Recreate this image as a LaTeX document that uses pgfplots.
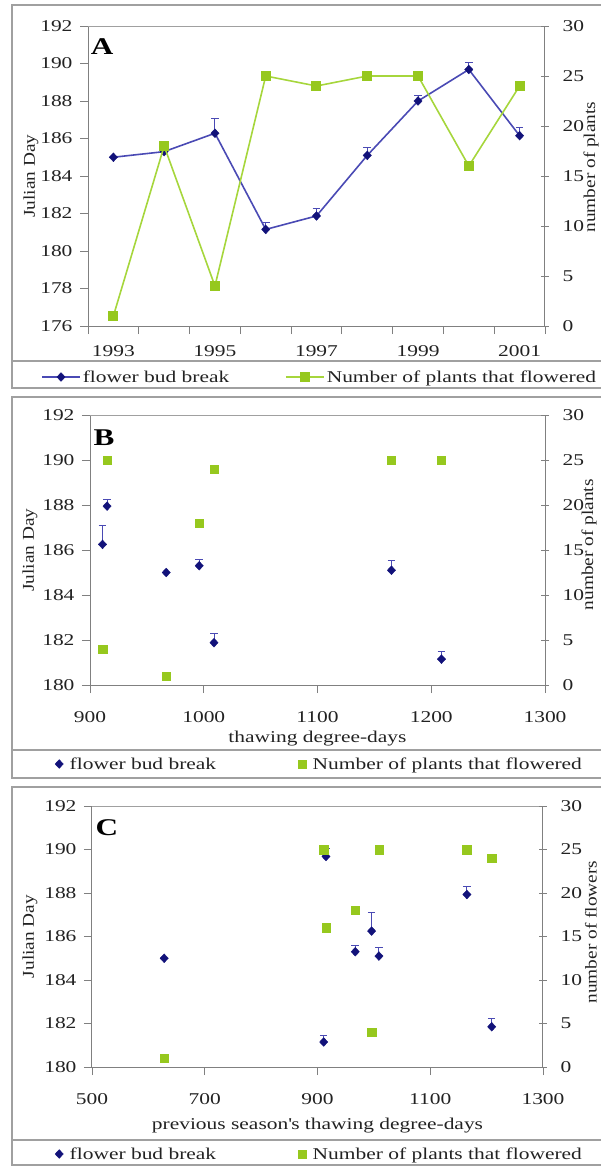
\documentclass[border=0pt]{standalone}
\usepackage{pgfplots}
\pgfplotsset{compat=1.18}
\usepackage{fontspec}
\setmainfont[FakeStretch=1.3]{Liberation Serif}
\newfontfamily\rotfont[FakeStretch=1.17]{Liberation Serif}

\definecolor{budline}{HTML}{4A4AB4}
\definecolor{budmark}{HTML}{12127A}
\definecolor{flowmark}{HTML}{96C81E}
\definecolor{flowline}{HTML}{A6D63C}
\definecolor{axisgray}{HTML}{808080}
\definecolor{framegray}{HTML}{A0A0A0}
\definecolor{txt}{HTML}{222222}

\newcommand{\mainsize}{\fontsize{16.5}{19}\selectfont}

\pgfplotsset{
  panel/.style={
    scale only axis,
    clip=false,
    /pgf/number format/assume math mode=true,
    /pgf/number format/1000 sep={},
    tick label style={font=\mainsize, text=txt},
    axis line style={axisgray, line width=1pt},
    tick style={axisgray, line width=0.9pt},
    major tick length=8pt,
    legend style={draw=none, fill=none, inner xsep=0pt, inner ysep=0pt,
      font=\mainsize, text=txt, anchor=west},
  },
  leftax/.style={
    panel,
    axis x line*=bottom, axis y line*=left,
    tick align=outside,
    yticklabel style={xshift=-4pt},
    ylabel style={font=\rotfont\mainsize, text=txt,
      at={(axis description cs:#1,0.5)}, anchor=center},
    xlabel style={font=\mainsize, text=txt},
  },
  rightax/.style={
    panel,
    axis x line=none, axis y line*=right,
    tick align=center,
    yticklabel style={xshift=10pt},
    ylabel style={font=\rotfont\mainsize, text=txt, anchor=center},
  },
  budpts/.style={mark=diamond*, mark size=4.4pt,
    mark options={solid, draw=budmark, fill=budmark, line width=0.4pt, xscale=1.25},
    error bars/.cd, y dir=plus, y explicit,
    error bar style={budline, line width=0.9pt},
    error mark options={rotate=90, mark size=3.8pt, draw=budline, line width=0.9pt}},
  flowpts/.style={mark=square*, mark size=4.2pt,
    mark options={solid, draw=flowmark, fill=flowmark}},
  lineentry/.style={legend image code/.code={\draw[mark repeat=2,mark phase=2,##1]
    plot coordinates {(0pt,0pt) (19pt,0pt) (38pt,0pt)};}},
  markentry/.style={legend image code/.code={%
    \path[draw=none, fill=none] (0pt,0pt) -- (17pt,0pt);
    \draw[##1] plot coordinates {(8.5pt,0pt)};}},
}

% flower bud break (Julian day, upper error) and number of plants that flowered
\pgfplotstableread{
x  year  y       e
1  1993  185.00  0
2  1994  185.30  0.30
3  1995  186.28  0.80
4  1996  181.15  0.35
5  1997  181.87  0.38
6  1998  185.10  0.42
7  1999  188.00  0.27
8  2000  189.68  0.37
9  2001  186.15  0.45
}\byyear

\pgfplotstableread{
tdd   y       e
967   185.00  0
996   185.30  0.30
911   186.25  0.85
1209  181.15  0.35
1009  181.88  0.40
1165  185.10  0.42
915   187.95  0.30
}\bythaw

\pgfplotstableread{
tdd   n
967   1
996   18
911   4
1209  25
1009  24
1165  25
915   25
}\plantsthaw

\pgfplotstableread{
ptdd  y       e
628   185.00  0
967   185.30  0.30
996   186.25  0.85
911   181.15  0.30
1209  181.85  0.38
1009  185.10  0.42
1165  187.93  0.35
915   189.68  0.35
}\byprev

\pgfplotstableread{
ptdd  n
628   1
967   18
996   4
911   25
1209  24
1009  25
1165  25
915   16
}\plantsprev

\begin{document}
\begin{tikzpicture}
\path[use as bounding box] (0pt,0pt) rectangle (600pt,-1167pt);

% panel frames with legend strips
\draw[framegray, line width=1.2pt] (12pt,-5pt) rectangle (606pt,-388pt);
\draw[framegray, line width=1.2pt] (12pt,-361pt) -- (606pt,-361pt);
\draw[framegray, line width=1.2pt] (12pt,-397pt) rectangle (606pt,-778pt);
\draw[framegray, line width=1.2pt] (12pt,-750pt) -- (606pt,-750pt);
\draw[framegray, line width=1.2pt] (12pt,-787pt) rectangle (606pt,-1165pt);
\draw[framegray, line width=1.2pt] (12pt,-1140pt) -- (606pt,-1140pt);

%----------------------------- A
\begin{axis}[leftax=-0.1247, at={(88pt,-326pt)}, anchor=south west,
  width=457pt, height=300pt,
  xmin=0.5, xmax=9.5, ymin=176, ymax=192, ytick={176,178,...,192},
  xtick={0.5,1.5,...,9.5}, xticklabels={},
  extra x ticks={1,3,5,7,9},
  extra x tick labels={1993,1995,1997,1999,2001},
  extra x tick style={tick style={draw=none}, tick label style={yshift=-8pt}},
  ylabel={Julian Day},
  lineentry,
  legend style={at={(axis description cs:-0.1028,-0.17)}}]
\draw[framegray, line width=0.8pt] (rel axis cs:0,1) -- (rel axis cs:1,1);
\node[font=\bfseries\fontsize{24}{26}\selectfont, text=black] at (rel axis cs:0.031,0.933) {A};
\addplot[budline, line width=1.6pt, budpts] table[x=x, y=y, y error=e] {\byyear};
\addlegendentry{flower bud break}
\end{axis}
\begin{axis}[rightax, at={(88pt,-326pt)}, anchor=south west,
  width=457pt, height=300pt,
  xmin=0.5, xmax=9.5, ymin=0, ymax=30, ytick={0,5,...,30},
  ylabel={number of plants},
  ylabel style={at={(axis description cs:1.1007,0.53)}},
  lineentry,
  legend style={at={(axis description cs:0.431,-0.17)}}]
\addplot[flowline, line width=1.6pt, flowpts] coordinates {
  (1,1) (2,18) (3,4) (4,25) (5,24) (6,25) (7,25) (8,16) (9,24)};
\addlegendentry{Number of plants that flowered}
\end{axis}

%----------------------------- B
\begin{axis}[leftax=-0.132, at={(90pt,-685pt)}, anchor=south west,
  width=455pt, height=270pt,
  xmin=900, xmax=1300, xtick={900,1000,...,1300},
  ymin=180, ymax=192, ytick={180,182,...,192},
  xticklabel style={yshift=-15pt},
  ylabel={Julian Day},
  xlabel={thawing degree-days},
  xlabel style={at={(axis description cs:0.5,-0.197)}, anchor=center},
  markentry,
  legend style={at={(axis description cs:-0.0868,-0.2926)}}]
\draw[framegray, line width=0.8pt] (rel axis cs:0,1) -- (rel axis cs:1,1);
\node[font=\bfseries\fontsize{24}{26}\selectfont, text=black] at (rel axis cs:0.031,0.915) {B};
\addplot[only marks, budpts] table[x=tdd, y=y, y error=e] {\bythaw};
\addlegendentry{flower bud break}
\end{axis}
\begin{axis}[rightax, at={(90pt,-685pt)}, anchor=south west,
  width=455pt, height=270pt,
  xmin=900, xmax=1300, ymin=0, ymax=30, ytick={0,5,...,30},
  ylabel={number of plants},
  ylabel style={at={(axis description cs:1.0967,0.52)}},
  markentry,
  legend style={at={(axis description cs:0.4473,-0.2926)}}]
\addplot[only marks, flowpts] table[x=tdd, y=n] {\plantsthaw};
\addlegendentry{Number of plants that flowered}
\end{axis}

%----------------------------- C
\begin{axis}[leftax=-0.1375, at={(92pt,-1067pt)}, anchor=south west,
  width=451pt, height=261pt,
  xmin=500, xmax=1300, xtick={500,700,...,1300},
  ymin=180, ymax=192, ytick={180,182,...,192},
  xticklabel style={yshift=-15pt},
  ylabel={Julian Day},
  xlabel={previous season\textquotesingle s thawing degree-days},
  xlabel style={at={(axis description cs:0.5,-0.225)}, anchor=center},
  markentry,
  legend style={at={(axis description cs:-0.092,-0.3333)}}]
\draw[framegray, line width=0.8pt] (rel axis cs:0,1) -- (rel axis cs:1,1);
\node[font=\bfseries\fontsize{24}{26}\selectfont, text=black] at (rel axis cs:0.033,0.918) {C};
\addplot[only marks, budpts] table[x=ptdd, y=y, y error=e] {\byprev};
\addlegendentry{flower bud break}
\end{axis}
\begin{axis}[rightax, at={(92pt,-1067pt)}, anchor=south west,
  width=451pt, height=261pt,
  xmin=500, xmax=1300, ymin=0, ymax=30, ytick={0,5,...,30},
  ylabel={number of flowers},
  ylabel style={at={(axis description cs:1.1064,0.517)}},
  markentry,
  legend style={at={(axis description cs:0.4468,-0.3333)}}]
\addplot[only marks, flowpts] table[x=ptdd, y=n] {\plantsprev};
\addlegendentry{Number of plants that flowered}
\end{axis}
\end{tikzpicture}
\end{document}
